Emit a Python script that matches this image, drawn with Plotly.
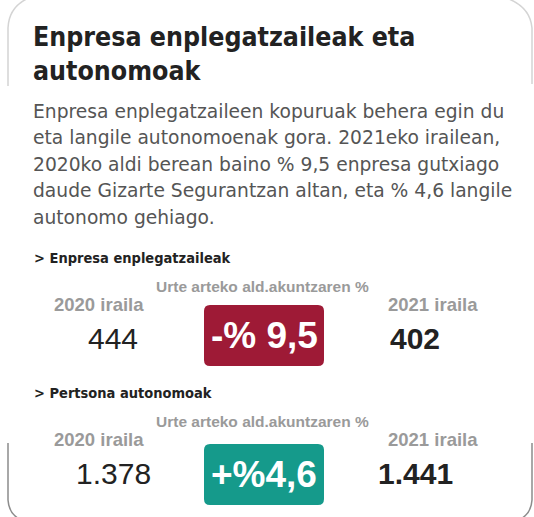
import plotly.graph_objects as go

# ---- data ----
title_lines = ["Enpresa enplegatzaileak eta", "autonomoak"]
body_lines = [
    "Enpresa enplegatzaileen kopuruak behera egin du",
    "eta langile autonomoenak gora. 2021eko irailean,",
    "2020ko aldi berean baino % 9,5 enpresa gutxiago",
    "daude Gizarte Segurantzan altan, eta % 4,6 langile",
    "autonomo gehiago.",
]
categories = ["Enpresa enplegatzaileak", "Pertsona autonomoak"]
period_labels = ["2020 iraila", "2021 iraila"]
change_label = "Urte arteko ald.akuntzaren %"
values_2020 = [444, 1378]
values_2021 = [402, 1441]
pct_change = [-9.5, 4.6]
badge_labels = ["-% 9,5", "+%4,6"]


def fmt(n):
    return f"{n:,}".replace(",", ".")


W, H = 534, 517
fig = go.Figure()
fig.update_layout(
    width=W, height=H, margin=dict(l=0, r=0, t=0, b=0, autoexpand=False),
    paper_bgcolor="white", plot_bgcolor="white", showlegend=False,
    xaxis=dict(range=[0, W], visible=False, fixedrange=True),
    yaxis=dict(range=[H, 0], visible=False, fixedrange=True),
)

COND = "DejaVu Sans Condensed, DejaVu Sans, sans-serif"
ARIAL = "Liberation Sans, Arial, sans-serif"
BODY = "DejaVu Sans, Noto Sans, sans-serif"

shapes = []
# card border (top part, light)
shapes.append(dict(type="path", path="M 8,86 L 8,28 Q 9,4 34,-4",
                   line=dict(color="#d4d4d4", width=1.5), xref="x", yref="y"))
shapes.append(dict(type="path", path="M 500,-4 Q 530,4 532,28 L 532,84",
                   line=dict(color="#d4d4d4", width=1.5), xref="x", yref="y"))
# card border (bottom part, darker)
shapes.append(dict(type="path", path="M 8,443 L 8,500 Q 9,516 24,521",
                   line=dict(color="#8c8c8c", width=1.5), xref="x", yref="y"))
shapes.append(dict(type="path", path="M 532,443 L 532,500 Q 531,516 516,521",
                   line=dict(color="#8c8c8c", width=1.5), xref="x", yref="y"))

ann = []
for i, t in enumerate(title_lines):
    ann.append(dict(x=31, y=36 + 34 * i, text=t, xanchor="left", yanchor="middle",
                    showarrow=False, font=dict(family=COND, size=26.5, color="#222222", weight="bold")))
for i, t in enumerate(body_lines):
    ann.append(dict(x=31, y=111 + 26.6 * i, text=t, xanchor="left", yanchor="middle",
                    showarrow=False, font=dict(family=BODY, size=18.7, color="#555555")))

sec_y = [258, 393]
colors = ["#9e1a36", "#159a8b"]
for k in range(len(categories)):
    y0 = sec_y[k]
    ann.append(dict(x=32, y=y0, text="> " + categories[k], xanchor="left", yanchor="middle",
                    showarrow=False, font=dict(family=COND, size=14.5, color="#222222", weight="bold")))
    ann.append(dict(x=262, y=y0 + 28, text=change_label, xanchor="center", yanchor="middle",
                    showarrow=False, font=dict(family=ARIAL, size=15.5, color="#9a9a9a", weight="bold")))
    ann.append(dict(x=99, y=y0 + 46, text=period_labels[0], xanchor="center", yanchor="middle",
                    showarrow=False, font=dict(family=ARIAL, size=18.5, color="#9a9a9a", weight="bold")))
    ann.append(dict(x=433, y=y0 + 46, text=period_labels[1], xanchor="center", yanchor="middle",
                    showarrow=False, font=dict(family=ARIAL, size=18.5, color="#9a9a9a", weight="bold")))
    ann.append(dict(x=113, y=y0 + 80, text=fmt(values_2020[k]), xanchor="center", yanchor="middle",
                    showarrow=False, font=dict(family=ARIAL, size=30, color="#222222")))
    ann.append(dict(x=415, y=y0 + 80, text=fmt(values_2021[k]), xanchor="center", yanchor="middle",
                    showarrow=False, font=dict(family=ARIAL, size=30, color="#222222", weight="bold")))
    # badge
    bx0, bx1 = 204, 324
    by0 = y0 + 47 if k == 0 else y0 + 51
    by1 = by0 + 61
    r = 6
    path = (f"M {bx0 + r},{by0} L {bx1 - r},{by0} Q {bx1},{by0} {bx1},{by0 + r} "
            f"L {bx1},{by1 - r} Q {bx1},{by1} {bx1 - r},{by1} L {bx0 + r},{by1} "
            f"Q {bx0},{by1} {bx0},{by1 - r} L {bx0},{by0 + r} Q {bx0},{by0} {bx0 + r},{by0} Z")
    shapes.append(dict(type="path", path=path, fillcolor=colors[0 if pct_change[k] < 0 else 1],
                       line=dict(width=0), xref="x", yref="y", layer="below"))
    ann.append(dict(x=(bx0 + bx1) / 2, y=(by0 + by1) / 2, text=badge_labels[k],
                    xanchor="center", yanchor="middle", showarrow=False,
                    font=dict(family=ARIAL, size=37, color="white", weight="bold")))

fig.update_layout(shapes=shapes, annotations=ann)
fig.write_html("out.html", config={"displayModeBar": False},
               post_script="document.body.style.margin='0';document.body.style.overflow='hidden';")
